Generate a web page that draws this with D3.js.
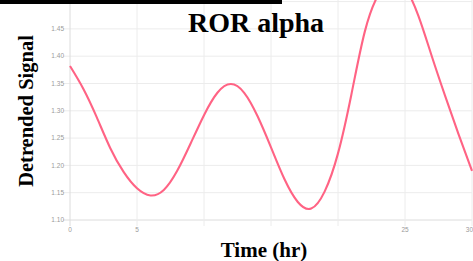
<!DOCTYPE html>
<html>
<head>
<meta charset="utf-8">
<script src="https://cdn.jsdelivr.net/npm/d3@7"></script>
<style>
  html, body { margin: 0; padding: 0; background: #fff; overflow: hidden; }
  svg { display: block; }
</style>
</head>
<body>
<div id="chart"></div>
<script>
// hours and detrended signal
const hours = d3.range(0, 31);
const signal = [
    1.382, 1.340, 1.288, 1.232, 1.188, 1.158, 1.145, 1.155, 1.190, 1.240,
    1.292, 1.333, 1.349, 1.333, 1.290, 1.233, 1.175, 1.133, 1.121, 1.152,
    1.222, 1.330, 1.445, 1.512, 1.538, 1.525, 1.474, 1.400, 1.327, 1.257,
    1.190
];
const xTicks = [0, 5, 10, 15, 20, 25, 30];
const yTicks = [1.10, 1.15, 1.20, 1.25, 1.30, 1.35, 1.40, 1.45, 1.50];

const width = 473, height = 261;
const plotLeft = 70, plotRight = 472, plotTop = 1.6, plotBottom = 220;

const svg = d3.select("#chart").append("svg")
    .attr("width", width)
    .attr("height", height);

const x = d3.scaleLinear().domain([0, 30]).range([plotLeft, plotRight]);
const y = d3.scaleLinear().domain([1.10, 1.50]).range([plotBottom, plotTop]);

// grid
svg.append("g").selectAll("line")
    .data(yTicks)
    .join("line")
    .attr("x1", plotLeft - 7).attr("x2", plotRight)
    .attr("y1", d => y(d)).attr("y2", d => y(d))
    .attr("stroke", d => d === 1.10 ? "#dcdcdc" : "#ececec")
    .attr("stroke-width", 1);

svg.append("g").selectAll("line")
    .data(xTicks)
    .join("line")
    .attr("x1", d => x(d)).attr("x2", d => x(d))
    .attr("y1", 0).attr("y2", plotBottom + 6)
    .attr("stroke", d => d === 0 ? "#dcdcdc" : "#ececec")
    .attr("stroke-width", 1);

// tick labels
svg.append("g").selectAll("text")
    .data(yTicks.filter(d => d < 1.5))
    .join("text")
    .attr("x", plotLeft - 6)
    .attr("y", d => y(d))
    .attr("dy", "0.35em")
    .attr("text-anchor", "end")
    .attr("font-family", "Liberation Sans, Arial, sans-serif")
    .attr("font-size", 6.5)
    .attr("fill", "#9a9a9a")
    .text(d => d.toFixed(2));

// the last label sits on the right edge, as in the reference
svg.append("g").selectAll("text")
    .data(xTicks)
    .join("text")
    .attr("x", d => x(d))
    .attr("y", plotBottom + 12)
    .attr("text-anchor", d => d === 30 ? "end" : "middle")
    .attr("dx", d => d === 30 ? 1 : 0)
    .attr("font-family", "Liberation Sans, Arial, sans-serif")
    .attr("font-size", 6.5)
    .attr("fill", "#9a9a9a")
    .text(d => d);

// line
const line = d3.line()
    .x((d, i) => x(hours[i]))
    .y(d => y(d))
    .curve(d3.curveNatural);

svg.append("path")
    .datum(signal)
    .attr("fill", "none")
    .attr("stroke", "#ff6384")
    .attr("stroke-width", 2.1)
    .attr("d", line);

// box behind x axis title
svg.append("rect")
    .attr("x", 190).attr("y", 227)
    .attr("width", 165).attr("height", 34)
    .attr("fill", "#fff");

svg.append("text")
    .attr("x", 264)
    .attr("y", 257)
    .attr("text-anchor", "middle")
    .attr("font-family", "Liberation Serif, Times New Roman, serif")
    .attr("font-weight", "bold")
    .attr("font-size", 21)
    .attr("fill", "#000")
    .text("Time (hr)");

svg.append("text")
    .attr("transform", "translate(33,111) rotate(-90)")
    .attr("text-anchor", "middle")
    .attr("font-family", "Liberation Serif, Times New Roman, serif")
    .attr("font-weight", "bold")
    .attr("font-size", 20.5)
    .attr("fill", "#000")
    .text("Detrended Signal");

svg.append("text")
    .attr("x", 256)
    .attr("y", 32)
    .attr("text-anchor", "middle")
    .attr("font-family", "Liberation Serif, Times New Roman, serif")
    .attr("font-weight", "bold")
    .attr("font-size", 28)
    .attr("fill", "#000")
    .text("ROR alpha");

// black bar along the top edge
svg.append("rect")
    .attr("x", 0).attr("y", 0)
    .attr("width", 282).attr("height", 4)
    .attr("fill", "#000");
</script>
</body>
</html>
